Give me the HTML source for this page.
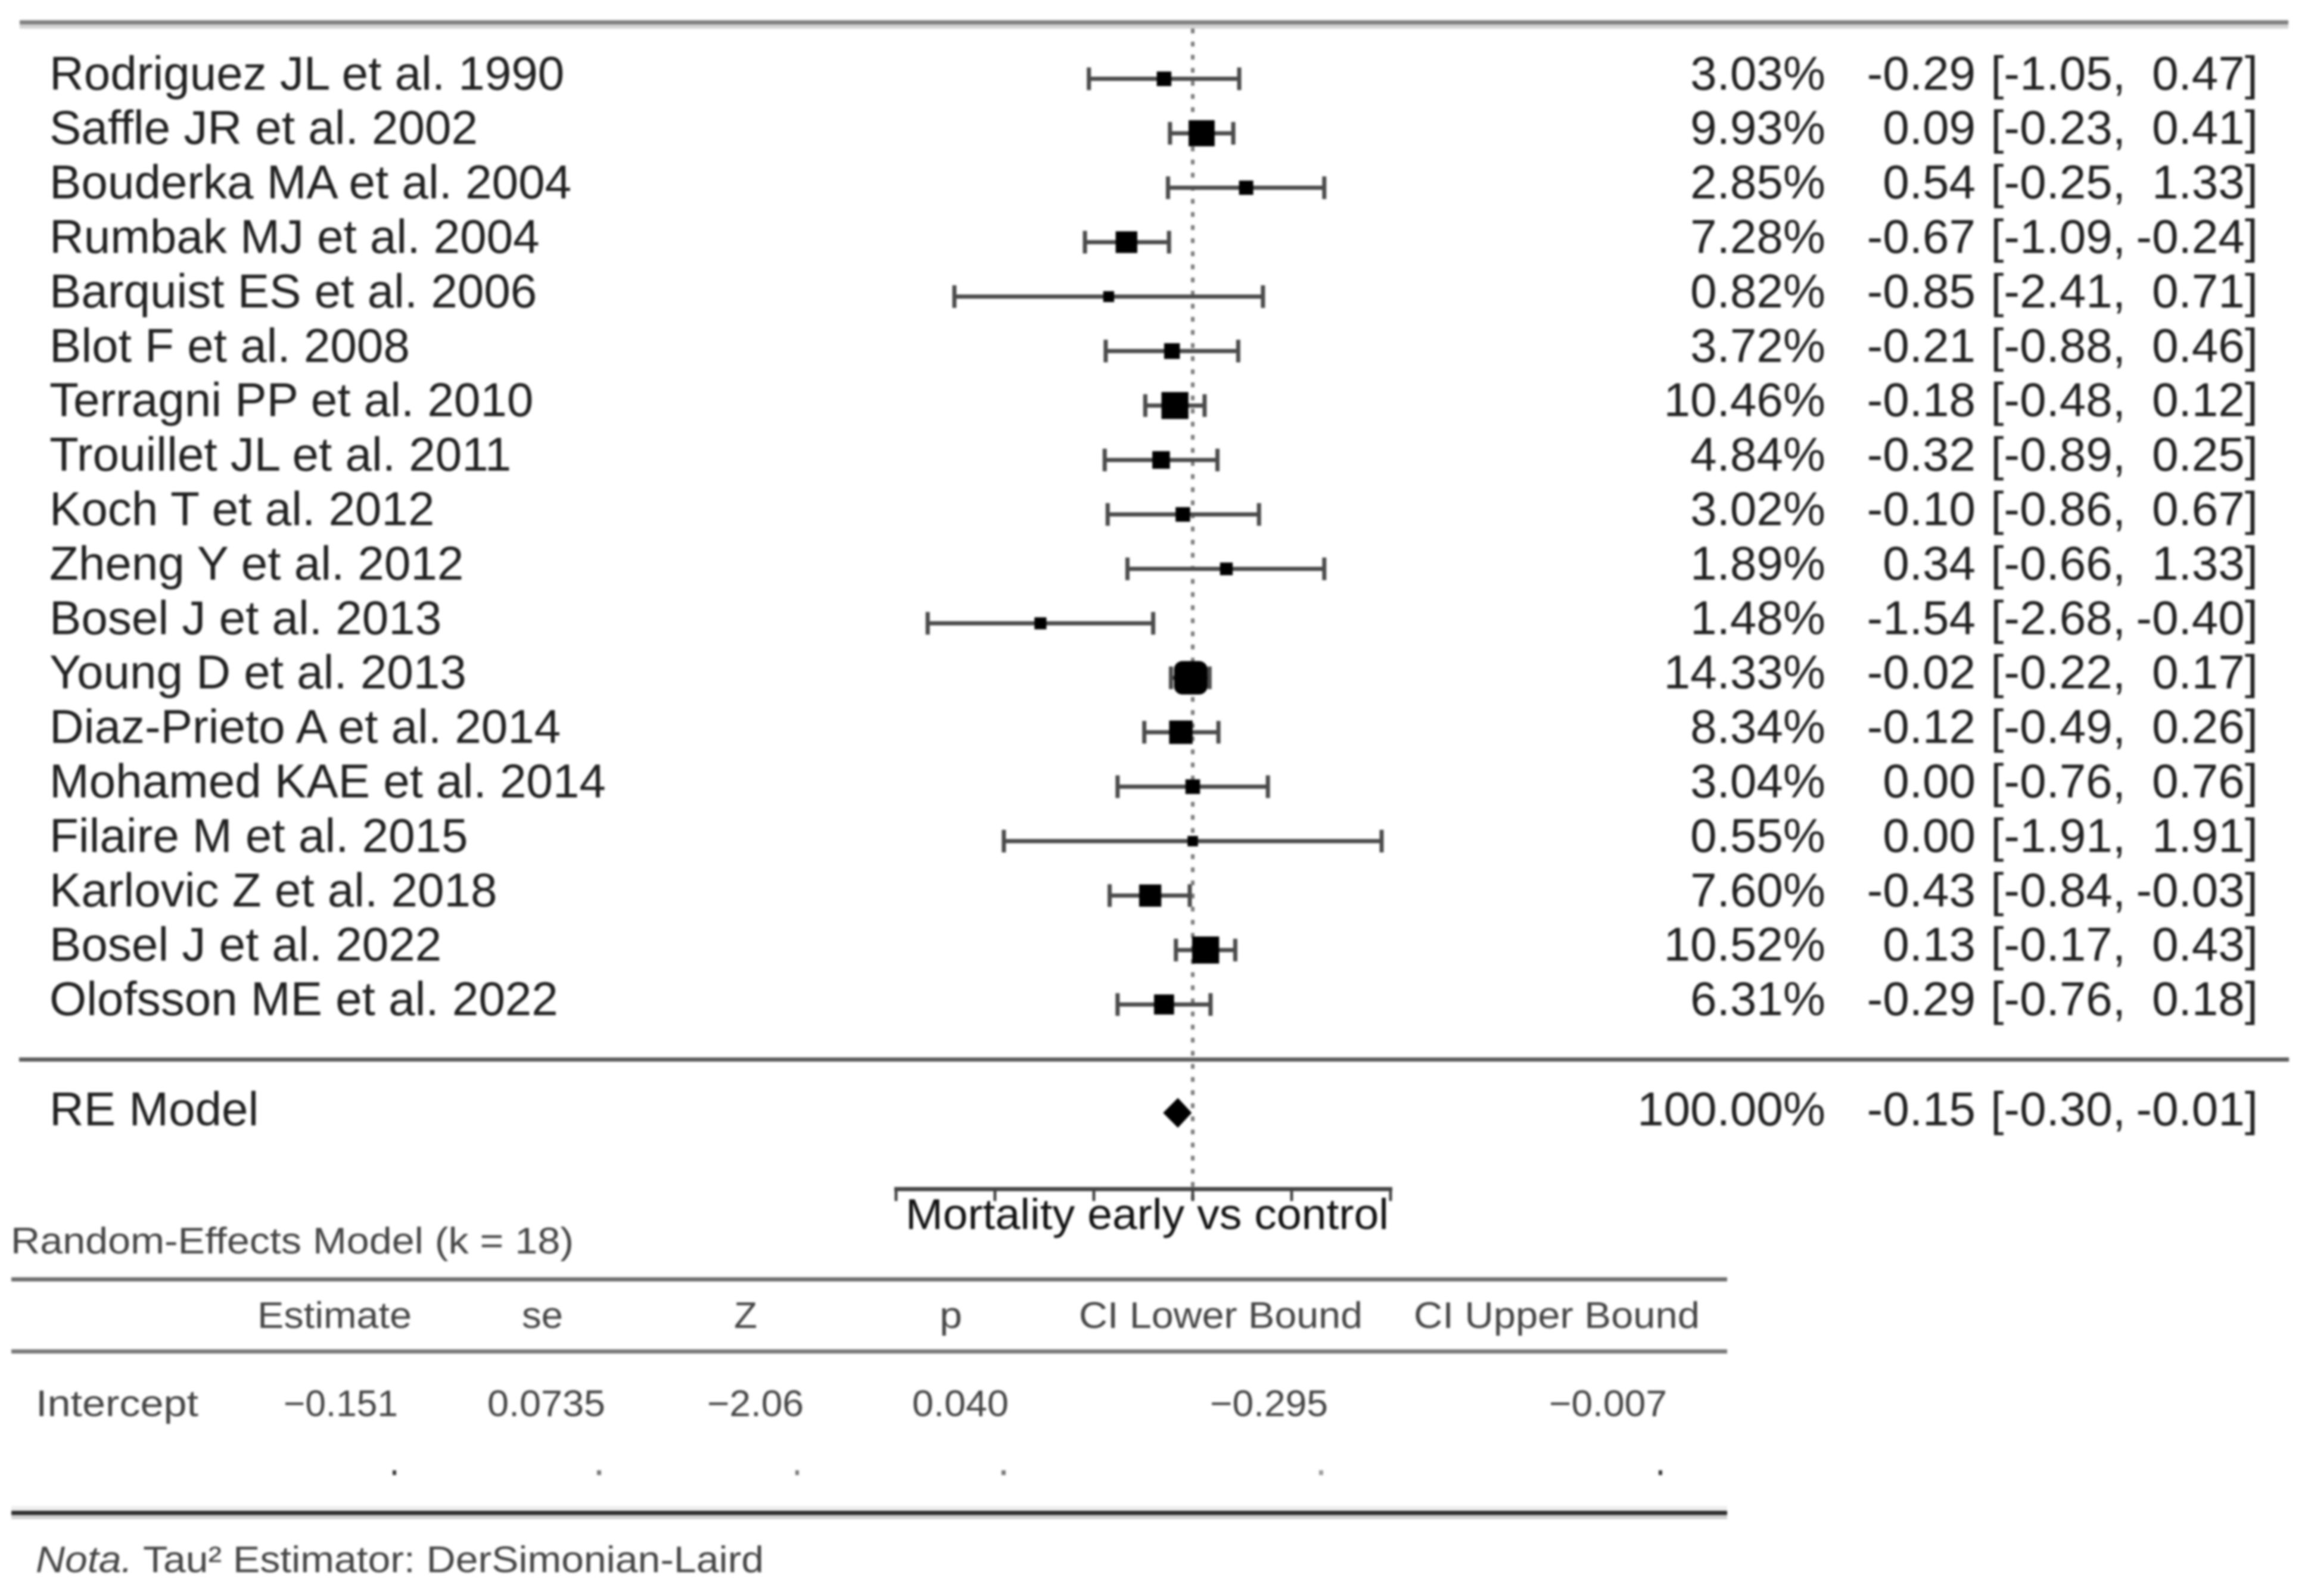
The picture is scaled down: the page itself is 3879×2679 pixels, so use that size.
<!DOCTYPE html>
<html lang="en">
<head>
<meta charset="utf-8">
<title>Forest plot: mortality early vs control</title>
<style>
html,body{margin:0;padding:0;background:#fff}
svg{display:block}
text{font-family:"Liberation Sans",sans-serif}
.soft{filter:blur(1.8px)}
.study{font-size:80px;fill:#202020}
.tbl{font-size:62px;fill:#444444}
</style>
</head>
<body>
<svg id="chart" xmlns="http://www.w3.org/2000/svg" width="3879" height="2679" viewBox="0 0 3879 2679">
  <rect x="0" y="0" width="3879" height="2679" fill="#ffffff"/>
  <g class="soft">
    <g id="plot">
      <rect x="33" y="34" width="3808" height="7" fill="#808080"/>
      <rect x="33" y="41" width="3808" height="7" fill="#d2d2d2"/>
      <rect x="32" y="1775" width="3810" height="7" fill="#5c5c5c"/>
    </g>
    <text x="1520" y="2063" font-size="72" fill="#111111" textLength="811" lengthAdjust="spacingAndGlyphs">Mortality early vs control</text>

    <g>
      <text class="tbl" x="18" y="2104" textLength="945" lengthAdjust="spacingAndGlyphs">Random-Effects Model (k = 18)</text>
      <rect x="19" y="2144" width="2880" height="7" fill="#6e6e6e"/>
      <text class="tbl" x="432" y="2229" textLength="259" lengthAdjust="spacingAndGlyphs">Estimate</text>
      <text class="tbl" x="876" y="2229" textLength="69" lengthAdjust="spacingAndGlyphs">se</text>
      <text class="tbl" x="1232" y="2229" textLength="39" lengthAdjust="spacingAndGlyphs">Z</text>
      <text class="tbl" x="1577" y="2229" textLength="38" lengthAdjust="spacingAndGlyphs">p</text>
      <text class="tbl" x="1811" y="2229" textLength="476" lengthAdjust="spacingAndGlyphs">CI Lower Bound</text>
      <text class="tbl" x="2373" y="2229" textLength="480" lengthAdjust="spacingAndGlyphs">CI Upper Bound</text>
      <rect x="19" y="2265" width="2880" height="7" fill="#787878"/>
      <text class="tbl" x="60" y="2377" textLength="273" lengthAdjust="spacingAndGlyphs">Intercept</text>
      <text class="tbl" x="476" y="2377" textLength="192" lengthAdjust="spacingAndGlyphs">−0.151</text>
      <text class="tbl" x="818" y="2377" textLength="198" lengthAdjust="spacingAndGlyphs">0.0735</text>
      <text class="tbl" x="1187" y="2377" textLength="162" lengthAdjust="spacingAndGlyphs">−2.06</text>
      <text class="tbl" x="1531" y="2377" textLength="162" lengthAdjust="spacingAndGlyphs">0.040</text>
      <text class="tbl" x="2031" y="2377" textLength="198" lengthAdjust="spacingAndGlyphs">−0.295</text>
      <text class="tbl" x="2600" y="2377" textLength="198" lengthAdjust="spacingAndGlyphs">−0.007</text>
      <rect x="659" y="2468" width="6" height="8" fill="#333"/>
      <rect x="1002" y="2468" width="7" height="8" fill="#777"/>
      <rect x="1335" y="2468" width="6" height="8" fill="#777"/>
      <rect x="1681" y="2468" width="7" height="8" fill="#777"/>
      <rect x="2214" y="2468" width="7" height="8" fill="#999"/>
      <rect x="2784" y="2468" width="6" height="8" fill="#333"/>
      <rect x="19" y="2528" width="2880" height="8" fill="#eeeeee"/>
      <rect x="19" y="2536" width="2880" height="7" fill="#2a2a2a"/>
      <rect x="19" y="2543" width="2880" height="7" fill="#cfcfcf"/>
      <text class="tbl" x="60" y="2639" textLength="1222" lengthAdjust="spacingAndGlyphs"><tspan font-style="italic">Nota.</tspan> Tau² Estimator: DerSimonian-Laird</text>
    </g>
  </g>
</svg>
<script>
var studies = ["Rodriguez JL et al. 1990","Saffle JR et al. 2002","Bouderka MA et al. 2004","Rumbak MJ et al. 2004","Barquist ES et al. 2006","Blot F et al. 2008","Terragni PP et al. 2010","Trouillet JL et al. 2011","Koch T et al. 2012","Zheng Y et al. 2012","Bosel J et al. 2013","Young D et al. 2013","Diaz-Prieto A et al. 2014","Mohamed KAE et al. 2014","Filaire M et al. 2015","Karlovic Z et al. 2018","Bosel J et al. 2022","Olofsson ME et al. 2022"];
var weights = [3.03,9.93,2.85,7.28,0.82,3.72,10.46,4.84,3.02,1.89,1.48,14.33,8.34,3.04,0.55,7.60,10.52,6.31];
var estimates = [-0.29,0.09,0.54,-0.67,-0.85,-0.21,-0.18,-0.32,-0.10,0.34,-1.54,-0.02,-0.12,0.00,0.00,-0.43,0.13,-0.29];
var lowers = [-1.05,-0.23,-0.25,-1.09,-2.41,-0.88,-0.48,-0.89,-0.86,-0.66,-2.68,-0.22,-0.49,-0.76,-1.91,-0.84,-0.17,-0.76];
var uppers = [0.47,0.41,1.33,-0.24,0.71,0.46,0.12,0.25,0.67,1.33,-0.40,0.17,0.26,0.76,1.91,-0.03,0.43,0.18];
var summaryLabel = "RE Model";
var summaryWeight = 100.00;
var summaryEstimate = -0.15;
var summaryLower = -0.30;
var summaryUpper = -0.01;
var axisTicks = [-3,-2,-1,0,1,2];

var NS = "http://www.w3.org/2000/svg";
var plot = document.getElementById("plot");
function xScale(v){ return 2002 + 166 * v; }
function yScale(i){ return 132.3 + 91.4 * i; }
function markerSize(w){ return 16 + 2.8 * w; }
function fmt(v){ return v.toFixed(2); }

function make(tag, attrs, parent){
  var el = document.createElementNS(NS, tag);
  for (var k in attrs) { el.setAttribute(k, attrs[k]); }
  (parent || plot).appendChild(el);
  return el;
}

var refLine = make("line", {x1:xScale(0), x2:xScale(0), y1:48, y2:2015, stroke:"#7a7a7a", "stroke-width":6, "stroke-dasharray":"8 14"});



function addText(x, y, str, anchor, name){
  var t = make("text", {x:x, y:y, "class":"study", "text-anchor":anchor});
  t.textContent = str;
  
  
  return t;
}

function addColumns(y, label, w, est, lo, hi, suffix){
  addText(83, y, label, "start", "study-label-" + suffix);
  addText(3064, y, w.toFixed(2) + "%", "end", "weight-" + suffix);
  addText(3316, y, fmt(est), "end", "estimate-" + suffix);
  addText(3568, y, "[" + fmt(lo) + ",", "end", "ci-lower-" + suffix);
  addText(3790, y, fmt(hi) + "]", "end", "ci-upper-" + suffix);
}

studies.forEach(function(name, i){
  var y = yScale(i);
  var x1 = xScale(lowers[i]), x2 = xScale(uppers[i]), xm = xScale(estimates[i]);
  var s = markerSize(weights[i]);
  var ci = make("line", {x1:x1, x2:x2, y1:y, y2:y, stroke:"#4a4a4a", "stroke-width":7});
  
  
  var capL = make("line", {x1:x1, x2:x1, y1:y-19, y2:y+19, stroke:"#4a4a4a", "stroke-width":7});
  
  
  var capR = make("line", {x1:x2, x2:x2, y1:y-19, y2:y+19, stroke:"#4a4a4a", "stroke-width":7});
  
  
  var m = make("rect", {x:xm-s/2, y:y-s/2, width:s, height:s, fill:"#000", rx:weights[i] > 12 ? 14 : 0});
  
  
  addColumns(y + 18, name, weights[i], estimates[i], lowers[i], uppers[i], "row-" + (i + 1));
});

var summaryY = 1868;
addColumns(summaryY + 21, summaryLabel, summaryWeight, summaryEstimate, summaryLower, summaryUpper, "summary");
var diamond = make("polygon", {points:[
  xScale(summaryLower) + "," + summaryY,
  xScale(summaryEstimate) + "," + (summaryY - 25),
  xScale(summaryUpper) + "," + summaryY,
  xScale(summaryEstimate) + "," + (summaryY + 25)
].join(" "), fill:"#000"});



var axisY = 1996;
var axisLine = make("line", {x1:xScale(axisTicks[0]) - 3, x2:xScale(axisTicks[axisTicks.length - 1]) + 3, y1:axisY, y2:axisY, stroke:"#444", "stroke-width":7});


axisTicks.forEach(function(t){
  var tick = make("line", {x1:xScale(t), x2:xScale(t), y1:axisY, y2:axisY + 20, stroke:"#444", "stroke-width":5});
  
  
});
</script>
</body>
</html>
